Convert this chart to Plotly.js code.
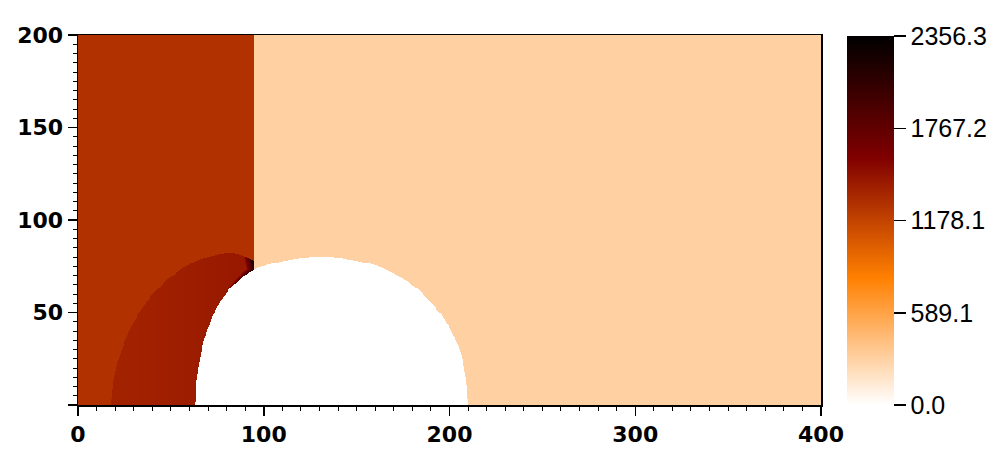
<!DOCTYPE html>
<html>
<head>
<meta charset="utf-8">
<script src="https://cdn.plot.ly/plotly-3.0.1.min.js"></script>
<style>html,body{margin:0;padding:0;background:#fff;}#chart{width:1001px;height:459px;}</style>
</head>
<body>
<div id="chart"></div>
<script>
// ---- data ----
const domainX = [0, 400];
const domainY = [0, 200];
const cellSize = [0.5];

// piecewise-constant levels
const valueLeft = [1285];          // region left of the incident shock
const valueRight = [296];          // region right of the incident shock
const incidentShockX = [95];       // vertical discontinuity

// bow shock (upper edge of the shock layer)
const bowX = [17.9, 19.2, 21.0, 23.9, 27.5, 32.3, 38.6, 47.2, 56.5, 65.5, 76.3, 81.0, 85.0, 88.8, 92.0, 95.0];
const bowY = [0.0, 13.1, 22.0, 31.1, 40.1, 49.1, 58.1, 67.1, 74.3, 78.8, 81.5, 82.0, 81.7, 80.6, 79.4, 77.6];

// shock layer level, varying with x
const layerX = [18, 30, 45, 60, 75, 95];
const layerVal = [1372, 1380, 1392, 1405, 1420, 1440];

// hot spot along the body near the triple point
const spotY = [58, 64, 70, 74, 79];
const spotWidth = [0.0, 1.5, 3.0, 4.5, 5.5];
const spotVal = [1420, 1650, 1950, 2250, 2356];

// body (blank) boundary
const bodyLeftY = [0, 13.1, 22.0, 31.1, 40.1, 49.1, 58.1, 63.0, 67.1, 70.7, 72.6, 74.3, 77.0, 78.8, 79.6, 80.0];
const bodyLeftX = [63.2, 63.7, 65.0, 66.8, 69.5, 72.7, 78.1, 81.8, 86.2, 90.7, 93.5, 96.9, 106.8, 115.7, 122.0, 128.0];
const bodyRightY = [0, 13.1, 22.0, 31.1, 40.1, 49.1, 58.1, 63.0, 67.1, 72.5, 76.1, 77.9, 79.3, 80.0];
const bodyRightX = [210.0, 209.1, 207.6, 205.1, 201.0, 195.6, 187.6, 182.5, 176.8, 167.8, 158.8, 149.9, 142.0, 136.0];

// colour bar
const cMin = 0, cMax = 2356.3;
const cbTickVals = [0, 589.1, 1178.1, 1767.2, 2356.3];
const cbTickText = ['0.0', '589.1', '1178.1', '1767.2', '2356.3'];

// ---- build the grid ----
function interp(v, xs, ys) {
  if (v <= xs[0]) return ys[0];
  if (v >= xs[xs.length - 1]) return ys[ys.length - 1];
  for (let i = 1; i < xs.length; i++) {
    if (v <= xs[i]) {
      const t = (v - xs[i - 1]) / (xs[i] - xs[i - 1]);
      return ys[i - 1] + t * (ys[i] - ys[i - 1]);
    }
  }
  return ys[ys.length - 1];
}
const bodyTop = bodyLeftY[bodyLeftY.length - 1];
const h = cellSize[0];
const nx = Math.round((domainX[1] - domainX[0]) / h);
const ny = Math.round((domainY[1] - domainY[0]) / h);
const z = [];
for (let j = 0; j < ny; j++) {
  const y = domainY[0] + (j + 0.5) * h;
  const row = new Array(nx);
  let xl = Infinity, xr = -Infinity;
  if (y <= bodyTop) {
    xl = interp(y, bodyLeftY, bodyLeftX);
    xr = interp(y, bodyRightY, bodyRightX);
  }
  for (let i = 0; i < nx; i++) {
    const x = domainX[0] + (i + 0.5) * h;
    if (x >= xl && x <= xr) { row[i] = null; continue; }
    let v;
    if (x >= incidentShockX[0]) {
      v = valueRight[0];
    } else if (x >= bowX[0] && y < interp(x, bowX, bowY)) {
      v = interp(x, layerX, layerVal);
      if (y > spotY[0]) {
        const w = interp(y, spotY, spotWidth);
        const d = Math.min(xl, incidentShockX[0]) - x;
        if (w > 0 && d < w) {
          const s = interp(y, spotY, spotVal);
          v = v + (s - v) * (1 - d / w);
        }
      }
    } else {
      v = valueLeft[0];
    }
    row[i] = v;
  }
  z.push(row);
}

const colorscale = [
  [0.0, '#ffffff'],
  [0.345, '#ff8000'],
  [0.67, '#800000'],
  [1.0, '#000000']
];

const trace = {
  type: 'heatmap',
  z: z,
  x0: domainX[0] + h / 2, dx: h,
  y0: domainY[0] + h / 2, dy: h,
  zmin: cMin, zmax: cMax,
  zsmooth: false,
  colorscale: colorscale,
  hoverinfo: 'skip',
  colorbar: {
    x: 1.0346, xanchor: 'left',
    y: 0, yanchor: 'bottom', len: 0.997, lenmode: 'fraction',
    thickness: 47, thicknessmode: 'pixels',
    outlinewidth: 0, ypad: 0, xpad: 0,
    ticks: 'outside', ticklen: 12, tickwidth: 1.5, tickcolor: '#000',
    tickmode: 'array', tickvals: cbTickVals, ticktext: cbTickText,
    tickfont: {family: 'Liberation Sans, Arial, sans-serif', size: 25, color: '#000'}
  }
};

const axisFont = {family: 'DejaVu Sans, sans-serif', size: 22, color: '#000', weight: 'bold'};
const layout = {
  width: 1001, height: 459,
  margin: {l: 78, r: 180, t: 35, b: 54, pad: 0},
  paper_bgcolor: '#fff', plot_bgcolor: '#fff',
  showlegend: false,
  xaxis: {
    range: domainX, showgrid: false, zeroline: false,
    showline: true, linecolor: '#000', linewidth: 1.5, mirror: true,
    ticks: 'outside', ticklen: 9, tickwidth: 1.5, tickcolor: '#000',
    tickmode: 'array', tickvals: [0, 100, 200, 300, 400], ticktext: ['0', '100', '200', '300', '400'],
    minor: {tickmode: 'linear', tick0: 0, dtick: 10, ticks: 'outside', ticklen: 4, tickwidth: 1, tickcolor: '#000', showgrid: false},
    tickfont: axisFont
  },
  yaxis: {
    range: domainY, showgrid: false, zeroline: false,
    showline: true, linecolor: '#000', linewidth: 1.5, mirror: true,
    ticks: 'outside', ticklen: 9, tickwidth: 1.5, tickcolor: '#000',
    tickmode: 'array', tickvals: [0, 50, 100, 150, 200], ticktext: ['', '50', '100', '150', '200'],
    minor: {tickmode: 'linear', tick0: 0, dtick: 5, ticks: 'outside', ticklen: 4, tickwidth: 1, tickcolor: '#000', showgrid: false},
    tickfont: axisFont
  }
};

Plotly.newPlot('chart', [trace], layout, {displayModeBar: false, staticPlot: true});
</script>
</body>
</html>
